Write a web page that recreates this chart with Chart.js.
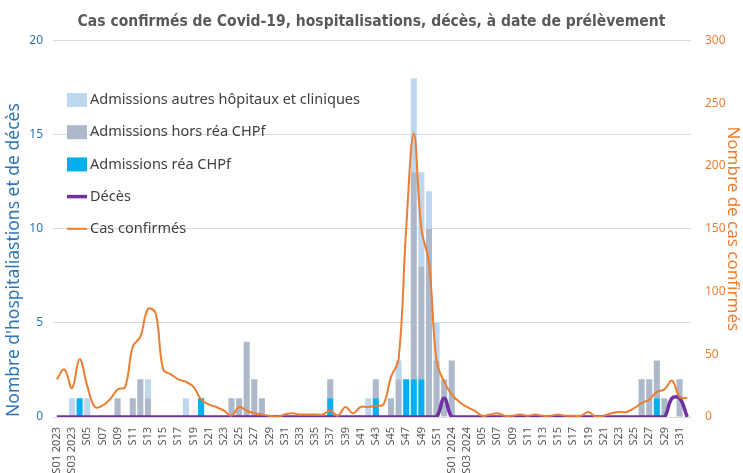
<!DOCTYPE html>
<html>
<head>
<meta charset="utf-8">
<script src="https://cdn.jsdelivr.net/npm/chart.js@4.4.1/dist/chart.umd.min.js"></script>
<style>
    html, body { margin: 0; padding: 0; background: #fff; }
</style>
</head>
<body>
<canvas id="ctx_covid" width="743" height="473"></canvas>
<script>
const weeks = [
    'S01 2023', 'S02 2023', 'S03 2023', 'S04', 'S05', 'S06', 'S07', 'S08', 'S09', 'S10',
    'S11', 'S12', 'S13', 'S14', 'S15', 'S16', 'S17', 'S18', 'S19', 'S20',
    'S21', 'S22', 'S23', 'S24', 'S25', 'S26', 'S27', 'S28', 'S29', 'S30',
    'S31', 'S32', 'S33', 'S34', 'S35', 'S36', 'S37', 'S38', 'S39', 'S40',
    'S41', 'S42', 'S43', 'S44', 'S45', 'S46', 'S47', 'S48', 'S49', 'S50',
    'S51', 'S52',
    'S01 2024', 'S02 2024', 'S03 2024', 'S04', 'S05', 'S06', 'S07', 'S08', 'S09', 'S10',
    'S11', 'S12', 'S13', 'S14', 'S15', 'S16', 'S17', 'S18', 'S19', 'S20',
    'S21', 'S22', 'S23', 'S24', 'S25', 'S26', 'S27', 'S28', 'S29', 'S30',
    'S31', 'S32'
];

// admissions réa CHPf
const reaCHPf = [
    0, 0, 0, 1, 0, 0, 0, 0, 0, 0,
    0, 0, 0, 0, 0, 0, 0, 0, 0, 1,
    0, 0, 0, 0, 0, 0, 0, 0, 0, 0,
    0, 0, 0, 0, 0, 0, 1, 0, 0, 0,
    0, 0, 1, 0, 0, 0, 2, 2, 2, 0,
    0, 0,
    0, 0, 0, 0, 0, 0, 0, 0, 0, 0,
    0, 0, 0, 0, 0, 0, 0, 0, 0, 0,
    0, 0, 0, 0, 0, 0, 0, 1, 0, 0,
    0, 0
];

// admissions hors réa CHPf
const horsReaCHPf = [
    0, 0, 0, 0, 0, 0, 0, 0, 1, 0,
    1, 2, 1, 0, 0, 0, 0, 0, 0, 0,
    0, 0, 0, 1, 1, 4, 2, 1, 0, 0,
    0, 0, 0, 0, 0, 0, 1, 0, 0, 0,
    0, 0, 1, 0, 1, 2, 0, 11, 6, 10,
    3, 2,
    3, 0, 0, 0, 0, 0, 0, 0, 0, 0,
    0, 0, 0, 0, 0, 0, 0, 0, 0, 0,
    0, 0, 0, 0, 0, 2, 2, 2, 1, 0,
    2, 0
];

// admissions autres hôpitaux et cliniques
const autresHopitaux = [
    0, 0, 1, 0, 1, 0, 0, 0, 0, 0,
    0, 0, 1, 0, 0, 0, 0, 1, 0, 0,
    0, 0, 0, 0, 0, 0, 0, 0, 0, 0,
    0, 0, 0, 0, 0, 0, 0, 0, 0, 0,
    0, 1, 0, 0, 0, 1, 0, 5, 5, 2,
    2, 0,
    0, 0, 0, 0, 0, 0, 0, 0, 0, 0,
    0, 0, 0, 0, 0, 0, 0, 0, 0, 0,
    0, 0, 0, 0, 0, 0, 0, 0, 0, 0,
    0, 0
];

const deces = [
    0, 0, 0, 0, 0, 0, 0, 0, 0, 0,
    0, 0, 0, 0, 0, 0, 0, 0, 0, 0,
    0, 0, 0, 0, 0, 0, 0, 0, 0, 0,
    0, 0, 0, 0, 0, 0, 0, 0, 0, 0,
    0, 0, 0, 0, 0, 0, 0, 0, 0, 0,
    0, 1,
    0, 0, 0, 0, 0, 0, 0, 0, 0, 0,
    0, 0, 0, 0, 0, 0, 0, 0, 0, 0,
    0, 0, 0, 0, 0, 0, 0, 0, 0, 1,
    1, 0
];

const casConfirmes = [
    30, 38, 23, 46, 25, 8, 9, 14, 22, 24,
    56, 64, 86, 83, 38, 34, 30, 28, 24, 14,
    10, 8, 5, 1, 8, 5, 3, 2, 1, 0,
    2, 3, 2, 2, 2, 2, 5, 1, 8, 3,
    8, 8, 9, 10, 32, 46, 150, 226, 150, 123,
    45, 28,
    18, 12, 8, 5, 1, 2, 3, 1, 1, 2,
    1, 2, 1, 1, 2, 1, 1, 1, 4, 0,
    1, 3, 4, 4, 7, 11, 14, 20, 22, 29,
    16, 15
];

const leftMax = 20;
const rightMax = 300;

// legend drawn inside the plot, top left
const legendInChart = {
    id: 'legendInChart',
    afterDraw(chart) {
        const c = chart.ctx;
        const ds = chart.data.datasets;
        const rows = [2, 1, 0, 3, 4];
        c.save();
        c.font = '14.5px "Noto Sans", sans-serif';
        c.textBaseline = 'middle';
        rows.forEach((idx, n) => {
            const d = ds[idx];
            const y = 100 + n * 32.2;
            if (d.type === 'line') {
                c.strokeStyle = d.borderColor;
                c.lineWidth = d.borderWidth;
                c.beginPath();
                c.moveTo(67, y);
                c.lineTo(87, y);
                c.stroke();
            } else {
                c.fillStyle = d.backgroundColor;
                c.fillRect(67, y - 7, 20, 14);
            }
            c.fillStyle = '#404040';
            c.fillText(d.label, 90, y);
        });
        c.restore();
    }
};

new Chart(document.getElementById('ctx_covid'), {
    type: 'bar',
    data: {
        labels: weeks,
        datasets: [{
            label: 'Admissions réa CHPf',
            data: reaCHPf,
            backgroundColor: '#00B0F0',
            stack: 'adm',
            order: 3
        },
        {
            label: 'Admissions hors réa CHPf',
            data: horsReaCHPf,
            backgroundColor: '#ADB9CA',
            stack: 'adm',
            order: 3
        },
        {
            label: 'Admissions autres hôpitaux et cliniques',
            data: autresHopitaux,
            backgroundColor: '#BDD7EE',
            stack: 'adm',
            order: 3
        },
        {
            type: 'line',
            label: 'Décès',
            data: deces,
            borderColor: '#7030A0',
            borderWidth: 3.5,
            tension: 0.4,
            pointRadius: 0,
            yAxisID: 'y',
            order: 2
        },
        {
            type: 'line',
            label: 'Cas confirmés',
            data: casConfirmes,
            borderColor: '#ED7D31',
            borderWidth: 2,
            tension: 0.4,
            pointRadius: 0,
            yAxisID: 'y1',
            order: 1
        }]
    },
    options: {
        responsive: false,
        animation: false,
        events: [],
        layout: { padding: 0 },
        datasets: {
            bar: { categoryPercentage: 1, barPercentage: 0.8 }
        },
        scales: {
            x: {
                stacked: true,
                grid: { display: false },
                border: { display: false },
                ticks: {
                    autoSkip: false,
                    minRotation: 90,
                    maxRotation: 90,
                    padding: 2,
                    color: '#595959',
                    font: { size: 11, family: '"Noto Sans", sans-serif' },
                    callback: (v, i) => i % 2 === 0 ? weeks[i] : ''
                },
                afterFit: (s) => { s.height = 56; }
            },
            y: {
                stacked: true,
                position: 'left',
                min: 0,
                max: leftMax,
                grid: {
                    color: '#D9D9D9',
                    lineWidth: 1,
                    drawTicks: false
                },
                border: { display: false },
                ticks: {
                    stepSize: 5,
                    padding: 10,
                    color: '#2E75B6',
                    font: { size: 12, family: '"Noto Sans", sans-serif' }
                },
                title: {
                    display: true,
                    text: "Nombre d'hospitaliastions et de décès",
                    color: '#2E75B6',
                    align: 'start',
                    padding: { top: 4, bottom: 0 },
                    font: { size: 17.5, family: '"Noto Sans", sans-serif' }
                },
                afterFit: (s) => { s.width = 53; }
            },
            y1: {
                position: 'right',
                min: 0,
                max: rightMax,
                grid: { drawOnChartArea: false, drawTicks: false },
                border: { display: false },
                ticks: {
                    stepSize: 50,
                    padding: 14,
                    color: '#ED7D31',
                    font: { size: 12, family: '"Noto Sans", sans-serif' }
                },
                title: {
                    display: true,
                    text: 'Nombre de cas confirmés',
                    color: '#ED7D31',
                    padding: 0,
                    font: { size: 17, family: '"Noto Sans", sans-serif' }
                },
                afterFit: (s) => { s.width = 52; }
            }
        },
        plugins: {
            legend: { display: false },
            tooltip: { enabled: false },
            title: {
                display: true,
                text: 'Cas confirmés de Covid-19, hospitalisations, décès, à date de prélèvement',
                color: '#595959',
                padding: { top: 13, bottom: 9 },
                font: { size: 15.5, weight: 'bold', family: '"Liberation Sans Narrow", "DejaVu Sans Condensed", sans-serif' }
            }
        }
    },
    plugins: [legendInChart]
});
</script>
</body>
</html>
